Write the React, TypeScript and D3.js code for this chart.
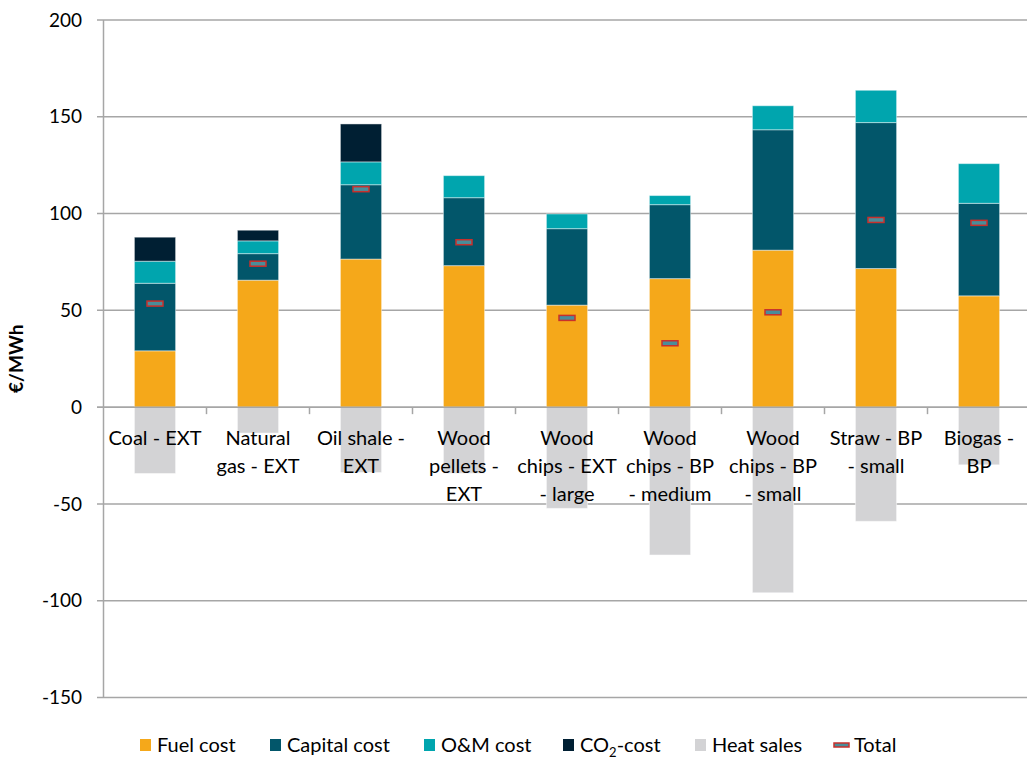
import React from "react";
import * as d3 from "d3";

// values in €/MWh
const categories = [
  ["Coal - EXT"],
  ["Natural", "gas - EXT"],
  ["Oil shale -", "EXT"],
  ["Wood", "pellets -", "EXT"],
  ["Wood", "chips - EXT", "- large"],
  ["Wood", "chips - BP", "- medium"],
  ["Wood", "chips - BP", "- small"],
  ["Straw - BP", "- small"],
  ["Biogas -", "BP"],
];
const fuelCost = [29.1, 65.6, 76.5, 73.1, 52.7, 66.4, 81.1, 71.6, 57.5];
const capitalCost = [34.9, 13.7, 38.4, 35.1, 39.5, 38.2, 62.2, 75.4, 47.8];
const omCost = [11.4, 6.6, 11.8, 11.4, 7.6, 4.7, 12.4, 16.7, 20.5];
const co2Cost = [12.4, 5.5, 19.6, 0, 0, 0, 0, 0, 0];
const heatSales = [-34.3, -13.4, -33.8, -34.2, -52.3, -76.4, -95.9, -59, -29.8];
const total = [53.5, 74.1, 112.6, 85.2, 46.1, 33.0, 49.0, 96.7, 95.2];
const yTicks = [200, 150, 100, 50, 0, -50, -100, -150];

const seriesKeys = ["fuel", "capital", "om", "co2"];
const colors = {
  fuel: "#F5A81A",
  capital: "#02566A",
  om: "#00A5AE",
  co2: "#001F33",
  heat: "#D3D3D5",
  totalFill: "#4A8D9A",
  totalStroke: "#C8302C",
};

const width = 1027,
  height = 760;
const font = "Lato, 'Open Sans', sans-serif";

const App = () => {
  const keys = categories.map((c) => c.join(" "));
  const rows = keys.map((k, i) => ({
    key: k,
    fuel: fuelCost[i],
    capital: capitalCost[i],
    om: omCost[i],
    co2: co2Cost[i],
  }));

  const x = d3
    .scaleBand()
    .domain(keys)
    .range([103.5, 1030.5])
    .paddingInner(0.6)
    .paddingOuter(0.3);
  const y = d3.scaleLinear().domain([-150, 200]).range([697.5, 20]);

  const stack = d3.stack().keys(seriesKeys)(rows as any);

  // category tick positions (boundaries between bands)
  const step = x.step();
  const left = x.range()[0];
  const boundaries = d3.range(1, keys.length).map((i) => left + i * step);

  const legend = [
    { label: "Fuel cost", color: colors.fuel, x: 140 },
    { label: "Capital cost", color: colors.capital, x: 270 },
    { label: "O&M cost", color: colors.om, x: 424 },
    { label: "CO2", color: colors.co2, x: 563 },
    { label: "Heat sales", color: colors.heat, x: 695 },
    { label: "Total", color: "", x: 833 },
  ];

  return (
    <svg
      width={width}
      height={height}
      style={{ position: "absolute", left: 0, top: 0, background: "#fff" }}
      fontFamily={font}
    >
      {/* grid */}
      <g>
        {yTicks.map((t) => (
          <line
            key={t}
            x1={97}
            x2={width}
            y1={y(t)}
            y2={y(t)}
            stroke="#A6A6A6"
            strokeWidth={1.5}
          />
        ))}
      </g>
      {/* heat sales */}
      <g>
        {keys.map((k, i) => (
          <rect
            key={k}
            x={x(k)}
            width={x.bandwidth()}
            y={y(0)}
            height={y(heatSales[i]) - y(0)}
            fill={colors.heat}
            stroke="rgba(255,255,255,0.5)"
            strokeWidth={1}
          />
        ))}
      </g>
      {/* cost stack */}
      {stack.map((s) => (
        <g key={s.key} fill={colors[s.key]}>
          {s.map((d, i) =>
            d[1] - d[0] > 0 ? (
              <rect
                key={i}
                x={x(keys[i])}
                width={x.bandwidth()}
                y={y(d[1])}
                height={y(d[0]) - y(d[1])}
                stroke="rgba(255,255,255,0.45)"
                strokeWidth={1}
              />
            ) : null
          )}
        </g>
      ))}
      {/* zero axis + ticks */}
      <line x1={97} x2={width} y1={y(0)} y2={y(0)} stroke="#A6A6A6" strokeWidth={1.5} />
      <line x1={left} x2={left} y1={y(200)} y2={y(-150)} stroke="#A6A6A6" strokeWidth={1.5} />
      {boundaries.map((b) => (
        <line key={b} x1={b} x2={b} y1={y(0)} y2={y(0) + 7} stroke="#A6A6A6" strokeWidth={1.5} />
      ))}
      {/* totals */}
      {keys.map((k, i) => (
        <rect
          key={k}
          x={x(k) + x.bandwidth() / 2 - 8}
          y={y(total[i]) - 2.5}
          width={16}
          height={5}
          fill={colors.totalFill}
          stroke={colors.totalStroke}
          strokeWidth={1.5}
        />
      ))}
      {/* y tick labels */}
      <g fontSize={19} textAnchor="end" fill="#000">
        {yTicks.map((t) => (
          <text key={t} x={82} y={y(t)} dy="0.35em">
            {t}
          </text>
        ))}
      </g>
      <text
        transform={`translate(23,${(y(200) + y(-150)) / 2}) rotate(-90)`}
        textAnchor="middle"
        fontSize={19}
        fontWeight="bold"
      >
        €/MWh
      </text>
      {/* category labels */}
      <g fontSize={20} textAnchor="middle" fill="#000">
        {categories.map((lines, i) => (
          <text key={i} x={x(keys[i]) + x.bandwidth() / 2} y={445}>
            {lines.map((l, j) => (
              <tspan key={j} x={x(keys[i]) + x.bandwidth() / 2} dy={j === 0 ? 0 : 28}>
                {l}
              </tspan>
            ))}
          </text>
        ))}
      </g>
      {/* legend */}
      <g fontSize={20}>
        {legend.map((l) => (
          <g key={l.label} transform={`translate(${l.x},745)`}>
            {l.color ? (
              <rect x={0} y={-6} width={11} height={12} fill={l.color} />
            ) : (
              <rect
                x={1}
                y={-2}
                width={15}
                height={4}
                fill={colors.totalFill}
                stroke={colors.totalStroke}
                strokeWidth={1.5}
              />
            )}
            <text x={l.color ? 17 : 21} y={0} dy="0.35em">
              {l.label === "CO2" ? (
                <>
                  CO
                  <tspan fontSize={13} dy={5}>
                    2
                  </tspan>
                  <tspan dy={-5}>-cost</tspan>
                </>
              ) : (
                l.label
              )}
            </text>
          </g>
        ))}
      </g>
    </svg>
  );
};

export default App;
